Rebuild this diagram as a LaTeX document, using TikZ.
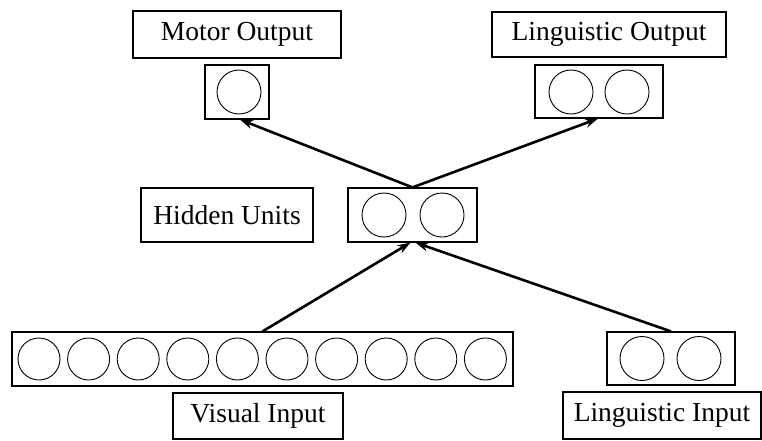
\documentclass[tikz,border=0pt]{standalone}
\usepackage{fontspec}
\setmainfont{Liberation Serif}
\usetikzlibrary{arrows.meta,calc}
\begin{document}
\begin{tikzpicture}[x=1pt,y=-1pt,
  lbl/.style={draw,line width=1.2pt,rectangle,inner sep=0pt,font=\fontsize{27.5}{33}\selectfont},
  layer/.style={draw,line width=1.2pt,rectangle,inner sep=0pt},
  unit/.style={draw,line width=0.9pt,circle,minimum size=44pt,inner sep=0pt},
  conn/.style={line width=2.6pt,-{Stealth[length=13pt,width=9pt]}}]
\useasboundingbox (0,0) rectangle (762,441);
% labels
\node[lbl,minimum width=208pt,minimum height=47pt] (motl) at (237,34.5) {Motor Output};
\node[lbl,minimum width=234pt,minimum height=45pt] (lol) at (609,34.5) {Linguistic Output};
\node[lbl,minimum width=172pt,minimum height=54pt] (hidl) at (227,215) {Hidden Units};
\node[lbl,minimum width=170pt,minimum height=46pt] (visl) at (258,416) {Visual Input};
\node[lbl,minimum width=198pt,minimum height=47pt] (lil) at (662,415.5) {Linguistic Input};
% layers
\node[layer,minimum width=64pt,minimum height=54pt] (mot) at (237,92) {};
\node[layer,minimum width=128pt,minimum height=53pt] (lo) at (599,91.5) {};
\node[layer,minimum width=129pt,minimum height=54pt] (hid) at (412.5,215) {};
\node[layer,minimum width=501pt,minimum height=54pt] (vis) at (262.5,359) {};
\node[layer,minimum width=128pt,minimum height=53pt] (li) at (671,358.5) {};
% units
\node[unit] (m1) at (239,92) {};
\node[unit] (o1) at (571,92) {};
\node[unit] (o2) at (627,92) {};
\node[unit] (h1) at (384,215) {};
\node[unit] (h2) at (442,215) {};
\foreach \i in {0,...,9} {\node[unit,minimum size=42pt] (v\i) at ({39+49.6*\i},359) {};}
\node[unit] (l1) at (642,358.5) {};
\node[unit] (l2) at (699,358.5) {};
% connections
\draw[conn] (hid.north) -- ($(mot.south)+(3,0)$);
\draw[conn] (hid.north) -- ($(lo.south)+(-1,0)$);
\draw[conn] (vis.north) -- ($(hid.south)+(-2,0)$);
\draw[conn] (li.north) -- ($(hid.south)+(3,0)$);
\end{tikzpicture}
\end{document}
